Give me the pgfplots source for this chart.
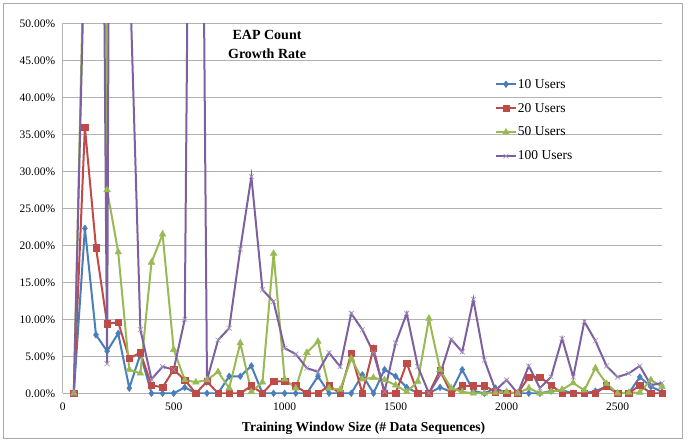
\documentclass[border=0pt]{standalone}
\usepackage{pgfplots}
\pgfplotsset{compat=1.18}
\usepackage{fontspec}
\setmainfont{Liberation Serif}
\definecolor{cblue}{HTML}{4A7EBB}
\definecolor{cred}{HTML}{BE4B48}
\definecolor{cgreen}{HTML}{98B954}
\definecolor{cpurple}{HTML}{7D60A0}
\definecolor{gridc}{RGB}{178,178,178}
\definecolor{framec}{RGB}{170,170,170}
\begin{document}
\begin{tikzpicture}[x=1pt,y=1pt]
\useasboundingbox (0,0) rectangle (694,441);
\draw[framec, line width=0.8pt] (3,3) rectangle (682,438);
\begin{axis}[
  at={(62.7pt,47.7pt)}, anchor=south west,
  scale only axis, width=599.3pt, height=369.8pt,
  xmin=0, xmax=2700, ymin=0, ymax=50,
  xtick={0,500,1000,1500,2000,2500},
  ytick={0,5,...,50},
  axis x line*=bottom, axis y line*=left,
  axis line style={-, draw=gridc, line width=0.9pt},
  major tick length=0pt,
  ymajorgrids, grid style={gridc, line width=0.9pt},
  /pgf/number format/assume math mode=true,
  ticklabel style={font=\fontsize{11.5}{13}\selectfont},
  xticklabel style={yshift=-6pt},
  yticklabel style={xshift=-4pt},
  scaled x ticks=false,
  xticklabel={\pgfmathprintnumber[fixed,precision=0,1000 sep={}]{\tick}},
  yticklabel={\pgfmathprintnumber[fixed,fixed zerofill,precision=2]{\tick}\%},
  xlabel={Training Window Size (\# Data Sequences)},
  xlabel style={font=\bfseries\fontsize{13.6}{15}\selectfont, at={(axis description cs:0.502,-0.0946)}, anchor=center},
  legend style={at={(rel axis cs:0.721,0.853)}, anchor=north west, draw=none, fill=none,
    font=\fontsize{13.5}{15}\selectfont, row sep=11.5pt, inner sep=0pt,
    nodes={inner sep=1pt}},
  legend cell align=left,
  legend image code/.code={\draw[#1] (0pt,0pt) -- (20pt,0pt); \draw[#1, mark repeat=2, mark phase=2] plot coordinates {(0pt,0pt) (10pt,0pt) (20pt,0pt)};},
  every axis plot/.append style={line width=2pt},
]
\addplot[cblue, mark=diamond*, mark size=3.3pt, mark options={solid, line width=0.5pt}] coordinates {
(50,0) (100,22.3) (150,7.9) (200,5.7) (250,8.1) (300,0.7) (350,5.3) (400,0) (450,0) (500,0)
(550,0.8) (600,0) (650,0) (700,0) (750,2.3) (800,2.3) (850,3.7) (900,0) (950,0) (1000,0)
(1050,0) (1100,0) (1150,2.3) (1200,0) (1250,0) (1300,0) (1350,2.5) (1400,0) (1450,3.2) (1500,2.3)
(1550,0.8) (1600,0) (1650,0) (1700,0.8) (1750,0.2) (1800,3.2) (1850,0.3) (1900,0) (1950,0.7) (2000,0)
(2050,0) (2100,0) (2150,0) (2200,0.3) (2250,0.4) (2300,0) (2350,0) (2400,0.3) (2450,0.9) (2500,0)
(2550,0) (2600,2.2) (2650,0.9) (2700,0.2)};
\addlegendentry{10 Users}
\addplot[cred, mark=square*, mark size=3.2pt, mark options={solid, line width=0.5pt}] coordinates {
(50,0) (100,36.0) (150,19.7) (200,9.4) (250,9.6) (300,4.7) (350,5.5) (400,1.1) (450,0.8) (500,3.2)
(550,1.8) (600,0) (650,1.6) (700,0) (750,0) (800,0) (850,1.0) (900,0) (950,1.6) (1000,1.6)
(1050,1.0) (1100,0) (1150,0) (1200,1.0) (1250,0) (1300,5.4) (1350,0) (1400,6.1) (1450,0) (1500,0)
(1550,4.1) (1600,0) (1650,0) (1700,3.1) (1750,0) (1800,1.0) (1850,1.0) (1900,1.0) (1950,0.2) (2000,0)
(2050,0) (2100,2.2) (2150,2.2) (2200,1.1) (2250,0) (2300,0) (2350,0) (2400,0) (2450,1.0) (2500,0)
(2550,0) (2600,1.1) (2650,0) (2700,0)};
\addlegendentry{20 Users}
\addplot[cgreen, mark=triangle*, mark size=3.8pt, mark options={solid, line width=0.5pt}] coordinates {
(50,0) (100,66) (150,400) (200,27.5) (250,19.1) (300,3.2) (350,2.7) (400,17.7) (450,21.5) (500,5.9)
(550,1.8) (600,1.5) (650,1.8) (700,2.9) (750,0.7) (800,6.8) (850,0.2) (900,1.5) (950,18.9) (1000,1.9)
(1050,0.7) (1100,5.5) (1150,7.0) (1200,0.7) (1250,0.5) (1300,4.7) (1350,1.9) (1400,2.1) (1450,1.8) (1500,1.1)
(1550,0.2) (1600,1.6) (1650,10.1) (1700,3.2) (1750,0.7) (1800,0.2) (1850,0) (1900,0) (1950,0.1) (2000,0.2)
(2050,0) (2100,0.7) (2150,0) (2200,0.2) (2250,0.5) (2300,1.4) (2350,0.4) (2400,3.4) (2450,1.3) (2500,0)
(2550,0.1) (2600,0.1) (2650,1.8) (2700,0.9)};
\addlegendentry{50 Users}
\addplot[cpurple, mark=x, mark size=3.5pt, mark options={solid, line width=0.6pt, cpurple!70}] coordinates {
(50,0) (100,62) (150,200) (200,4.0) (250,367) (300,59) (350,8.6) (400,1.9) (450,3.6) (500,3.2)
(550,10.0) (600,190) (650,1.8) (700,7.2) (750,8.8) (800,19.5) (850,29.3) (900,14.0) (950,12.4) (1000,6.1)
(1050,5.3) (1100,3.4) (1150,2.9) (1200,5.5) (1250,3.6) (1300,10.8) (1350,8.6) (1400,5.5) (1450,0.2) (1500,6.8)
(1550,10.8) (1600,3.6) (1650,0) (1700,2.5) (1750,7.3) (1800,5.6) (1850,12.7) (1900,4.5) (1950,0.4) (2000,1.8)
(2050,0) (2100,3.7) (2150,0.7) (2200,2.2) (2250,7.4) (2300,2.2) (2350,9.7) (2400,7.1) (2450,3.7) (2500,2.2)
(2550,2.7) (2600,3.7) (2650,1.1) (2700,1.4)};
\addlegendentry{100 Users}
\node[align=center, font=\bfseries\fontsize{14}{19}\selectfont] at (rel axis cs:0.341,0.943) {EAP Count\\Growth Rate};
\end{axis}
\end{tikzpicture}
\end{document}
